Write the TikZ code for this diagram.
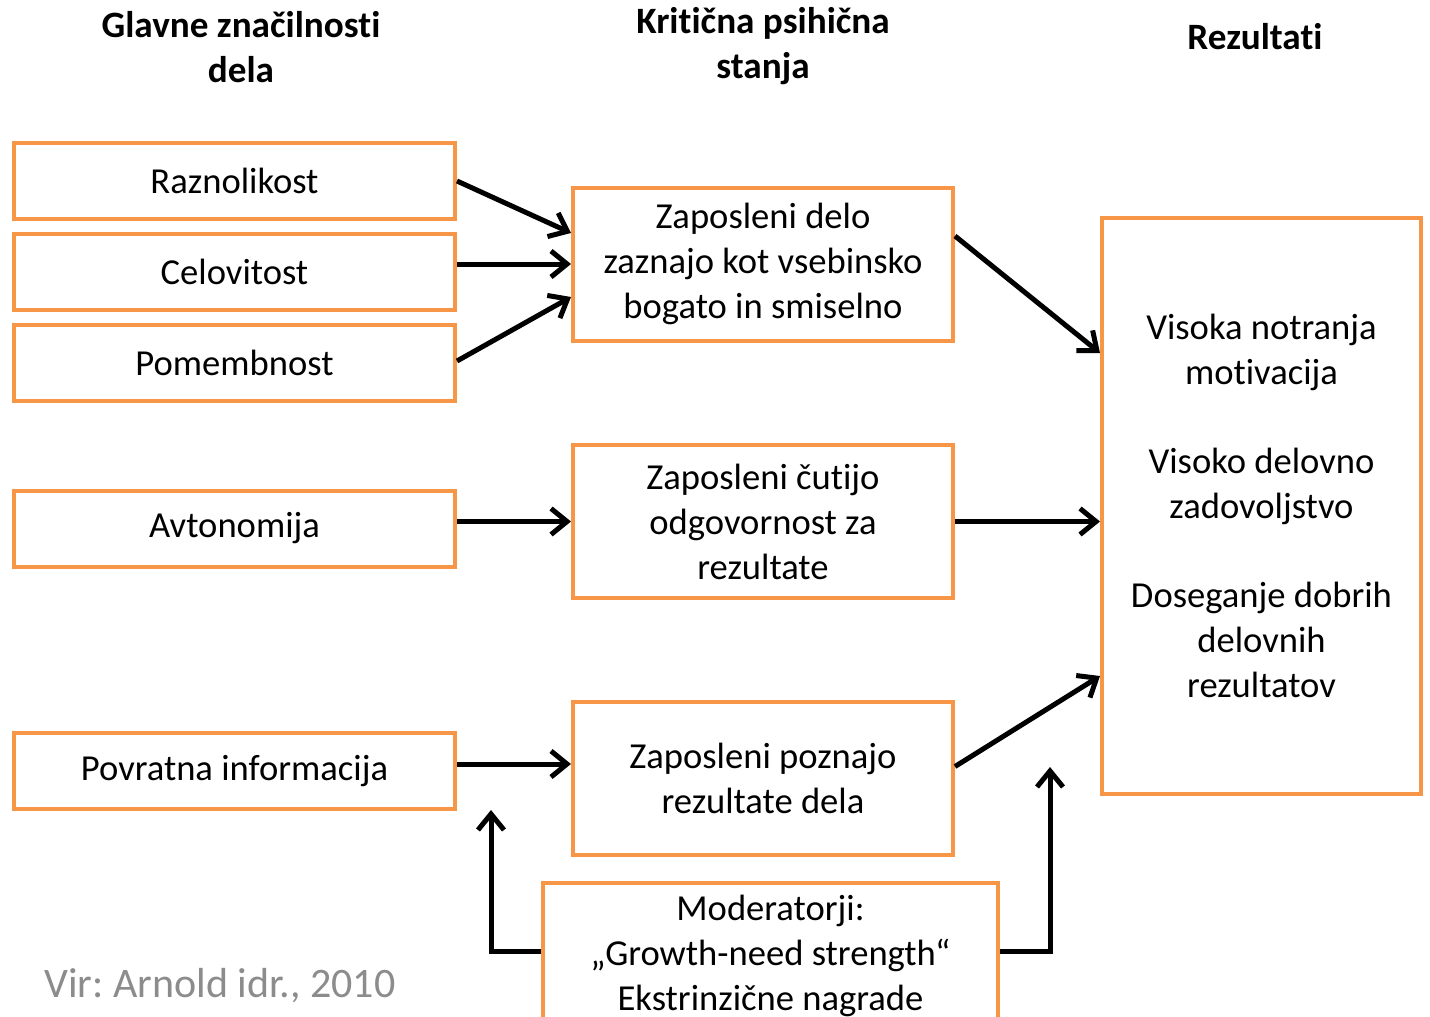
\documentclass[tikz,border=0pt]{standalone}
\usepackage{fontspec}
\setmainfont{Carlito}[Ligatures=NoCommon]
\frenchspacing
\usetikzlibrary{arrows.meta,calc}
\definecolor{orgc}{HTML}{F79646}
\definecolor{virgray}{HTML}{8C8C8C}
\begin{document}
\begin{tikzpicture}[x=0.5pt,y=-0.5pt,
 box/.style={draw=orgc,line width=2pt,inner sep=0pt,align=center,font=\fontsize{18.3}{22.5}\selectfont},
 lbox/.style={box,minimum width=220.5pt,minimum height=38pt},
 mbox/.style={box,minimum width=190pt,minimum height=76.5pt},
 arr/.style={line width=2.5pt,-{Straight Barb[length=8pt,width=13pt]}},
 head/.style={align=center,font=\bfseries\fontsize{18.6}{22.5}\selectfont}]
\useasboundingbox[fill=white] (0,0) rectangle (1430,1017);
% headers
\node[head] (h1) at (241,47.5) {Glavne značilnosti\\dela};
\node[head] (h2) at (763,46) {Kritična psihična\\stanja};
\node[head] (h3) at (1255,37) {Rezultati};
% left boxes
\node[lbox] (raz) at (234.5,181) {Raznolikost};
\node[lbox] (cel) at (234.5,272) {Celovitost};
\node[lbox] (pom) at (234.5,362.5) {Pomembnost};
\node[lbox] (avt) at (234.5,528.5) {Avtonomija};
\node[lbox] (pov) at (234.5,771) {Povratna informacija};
% middle boxes
\node[mbox] (z1) at (763,264) {Zaposleni delo\\zaznajo kot vsebinsko\\bogato in smiselno};
\node[mbox] (z2) at (763,521.5) {Zaposleni čutijo\\odgovornost za\\rezultate};
\node[mbox] (z3) at (763,778.5) {Zaposleni poznajo\\rezultate dela};
% right box
\node[box,minimum width=159.5pt,minimum height=288pt] (rb) at (1261.5,506)
 {Visoka notranja\\motivacija\\[22pt]Visoko delovno\\zadovoljstvo\\[22pt]Doseganje dobrih\\delovnih\\rezultatov};
% moderator box
\node[box,minimum width=227.5pt,minimum height=73pt] (mod) at (770.5,956)
 {Moderatorji:\\„Growth-need strength“\\Ekstrinzične nagrade};
% source
\node[anchor=west,text=virgray,font=\fontsize{21}{25}\selectfont,inner sep=0pt] (vir) at (44,986) {Vir: Arnold idr., 2010};
% arrows
\draw[arr] (raz.east) -- ($(z1.west)+(0,-31)$);
\draw[arr] (cel.east |- z1.west) -- (z1.west);
\draw[arr] ($(pom.east)+(0,-1.5)$) -- ($(z1.west)+(0,33)$);
\draw[arr] ($(z1.east)+(0,-28)$) -- ($(rb.west)+(0,-153)$);
\draw[arr] (avt.east |- z2.west) -- (z2.west);
\draw[arr] (z2.east) -- (rb.west |- z2.east);
\draw[arr] ($(pov.east)+(0,-7)$) -- ($(z3.west)+(0,-14.5)$);
\draw[arr] ($(z3.east)+(0,-12)$) -- ($(rb.west)+(0,170)$);
\coordinate (mL) at (491,810);
\coordinate (mR) at (1050,767);
\draw[arr] ($(mod.west)+(0,-5)$) -| (mL);
\draw[arr] ($(mod.east)+(0,-5)$) -| (mR);
\end{tikzpicture}
\end{document}
